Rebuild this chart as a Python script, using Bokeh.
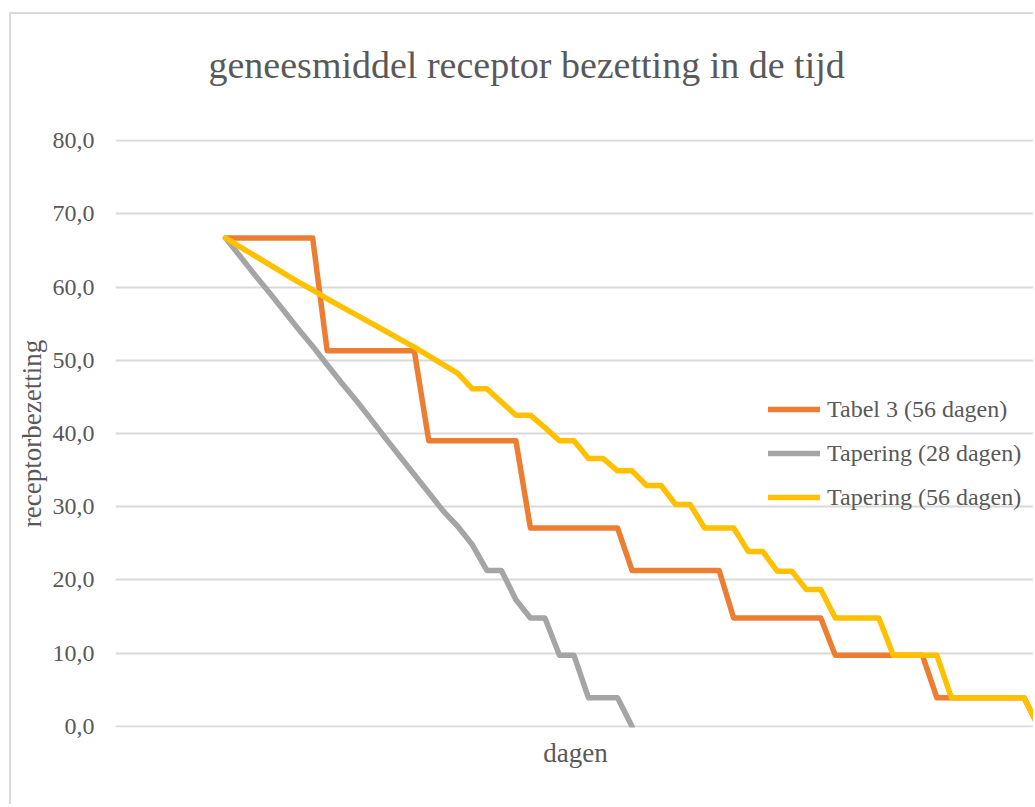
from bokeh.plotting import figure
from bokeh.models import Range1d, FixedTicker, Legend, LegendItem, Title
from bokeh.embed import file_html
from bokeh.resources import INLINE

# ---- data ----
title_text = "geneesmiddel receptor bezetting in de tijd"
x_label = "dagen"
y_label = "receptorbezetting"

days_56 = list(range(0, 57))
days_28 = list(range(0, 29))

tabel3_56 = [66.7, 66.7, 66.7, 66.7, 66.7, 66.7, 66.7,
             51.3, 51.3, 51.3, 51.3, 51.3, 51.3, 51.3,
             39.0, 39.0, 39.0, 39.0, 39.0, 39.0, 39.0,
             27.1, 27.1, 27.1, 27.1, 27.1, 27.1, 27.1,
             21.3, 21.3, 21.3, 21.3, 21.3, 21.3, 21.3,
             14.8, 14.8, 14.8, 14.8, 14.8, 14.8, 14.8,
             9.7, 9.7, 9.7, 9.7, 9.7, 9.7, 9.7,
             3.9, 3.9, 3.9, 3.9, 3.9, 3.9, 3.9,
             0.0]

tapering_28 = [66.7, 64.2, 61.7, 59.3, 56.8, 54.3, 51.9, 49.4, 46.9, 44.5,
               42.0, 39.4, 36.9, 34.4, 31.9, 29.4, 27.3, 24.8, 21.3, 21.3,
               17.3, 14.8, 14.8, 9.7, 9.7, 3.9, 3.9, 3.9, 0.0]

tapering_56 = [66.7, 65.5, 64.3, 63.1, 61.9, 60.7, 59.6, 58.4, 57.3, 56.2,
               55.1, 54.0, 52.9, 51.8, 50.6, 49.4, 48.2, 46.1, 46.1, 44.3,
               42.5, 42.5, 40.8, 39.0, 39.0, 36.6, 36.6, 34.9, 34.9, 32.9,
               32.9, 30.3, 30.3, 27.1, 27.1, 27.1, 23.9, 23.9, 21.2, 21.2,
               18.7, 18.7, 14.8, 14.8, 14.8, 14.8, 9.7, 9.7, 9.7, 9.7,
               3.9, 3.9, 3.9, 3.9, 3.9, 3.9, 0.0]

series_names = ["Tabel 3 (56 dagen)", "Tapering (28 dagen)", "Tapering (56 dagen)"]
series_colors = ["#ED7D31", "#A5A5A5", "#FFC000"]

y_ticks = [0, 10, 20, 30, 40, 50, 60, 70, 80]
y_tick_labels = ["0,0", "10,0", "20,0", "30,0", "40,0", "50,0", "60,0", "70,0", "80,0"]

FONT = "Liberation Serif"
TXT = "#595959"

p = figure(width=1024, height=792, output_backend="svg", toolbar_location=None,
           x_range=Range1d(-7.58, 55.79), y_range=Range1d(-0.15, 80.15),
           min_border_left=104, min_border_right=0, min_border_top=125,
           min_border_bottom=79)
p.styles = {"margin-left": "9px", "margin-top": "12px",
            "border-left": "2px solid #d9d9d9", "border-top": "2px solid #d9d9d9"}
p.outline_line_color = None
p.background_fill_color = "white"
p.border_fill_color = "white"

# spacer between plot area and title (empty title line)
spacer = Title(text=" ", text_font=FONT, text_font_size="38px", standoff=10)
p.add_layout(spacer, "above")

# title
p.title.text = title_text
p.title.text_font = FONT
p.title.text_font_size = "38px"
p.title.text_font_style = "normal"
p.title.text_color = TXT
p.title.align = "left"
p.title.offset = 93
p.title.standoff = 0

# axes
p.xaxis.ticker = FixedTicker(ticks=[])
p.xaxis.axis_line_color = None
p.xaxis.major_tick_line_color = None
p.xaxis.minor_tick_line_color = None
p.xaxis.major_tick_out = 0
p.xaxis.major_label_standoff = 0
p.xaxis.axis_label = x_label
p.xaxis.axis_label_text_font = FONT
p.xaxis.axis_label_text_font_size = "27px"
p.xaxis.axis_label_text_font_style = "normal"
p.xaxis.axis_label_text_color = TXT
p.xaxis.axis_label_standoff = 10

p.yaxis.ticker = FixedTicker(ticks=y_ticks)
p.yaxis.major_label_overrides = {t: l for t, l in zip(y_ticks, y_tick_labels)}
p.yaxis.axis_line_color = None
p.yaxis.major_tick_line_color = None
p.yaxis.minor_tick_line_color = None
p.yaxis.major_tick_out = 0
p.yaxis.major_tick_in = 0
p.yaxis.major_label_standoff = 21
p.yaxis.major_label_text_font = FONT
p.yaxis.major_label_text_font_size = "24px"
p.yaxis.major_label_text_color = TXT
p.yaxis.axis_label = y_label
p.yaxis.axis_label_text_font = FONT
p.yaxis.axis_label_text_font_size = "27px"
p.yaxis.axis_label_text_font_style = "normal"
p.yaxis.axis_label_text_color = TXT
p.yaxis.axis_label_standoff = 3

p.xgrid.grid_line_color = None
p.ygrid.grid_line_color = "#D9D9D9"
p.ygrid.grid_line_width = 2

# lines
r1 = p.line(days_56, tabel3_56, line_color=series_colors[0], line_width=5.5,
            line_join="round", line_cap="round")
r2 = p.line(days_28, tapering_28, line_color=series_colors[1], line_width=5.5,
            line_join="round", line_cap="round")
r3 = p.line(days_56, tapering_56, line_color=series_colors[2], line_width=5.5,
            line_join="round", line_cap="round")

legend = Legend(items=[LegendItem(label=series_names[0], renderers=[r1]),
                       LegendItem(label=series_names[1], renderers=[r2]),
                       LegendItem(label=series_names[2], renderers=[r3])],
                location=(653, 212), orientation="vertical")
legend.label_text_font = FONT
legend.label_text_font_size = "24px"
legend.label_text_color = TXT
legend.glyph_width = 52
legend.glyph_height = 36
legend.label_height = 36
legend.label_standoff = 7
legend.spacing = 8
legend.padding = 0
legend.margin = 0
legend.border_line_color = None
legend.background_fill_alpha = 0
p.add_layout(legend, "center")

open("out.html", "w").write(file_html(p, INLINE))
